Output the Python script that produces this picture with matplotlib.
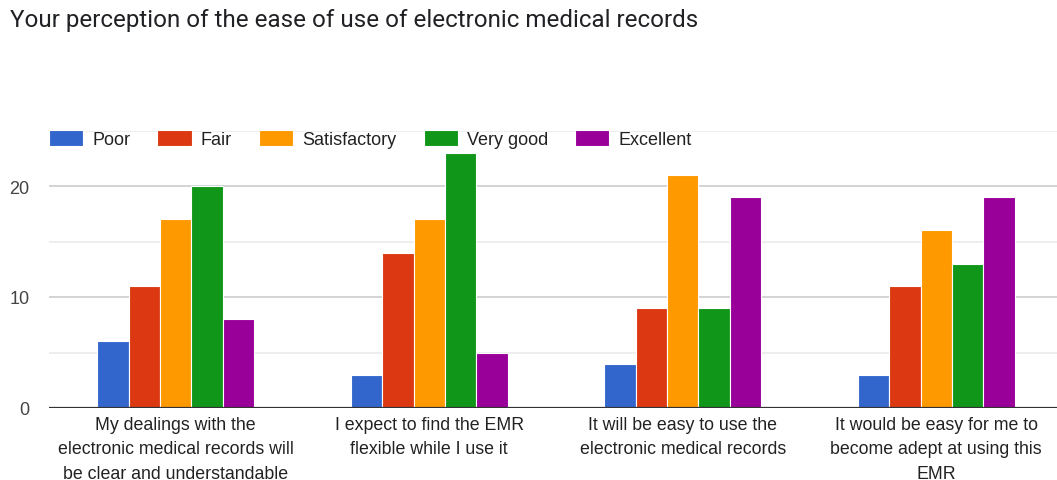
import matplotlib.pyplot as plt
import numpy as np
from matplotlib.ticker import MultipleLocator

categories = [
    "My dealings with the\nelectronic medical records will\nbe clear and understandable",
    "I expect to find the EMR\nflexible while I use it",
    "It will be easy to use the\nelectronic medical records",
    "It would be easy for me to\nbecome adept at using this\nEMR",
]
ratings = ["Poor", "Fair", "Satisfactory", "Very good", "Excellent"]
poor = [6, 3, 4, 3]
fair = [11, 14, 9, 11]
satisfactory = [17, 17, 21, 16]
very_good = [20, 23, 9, 13]
excellent = [8, 5, 19, 19]
colors = ["#3366cc", "#dc3912", "#ff9900", "#109618", "#990099"]

W, H = 1057, 481
fig = plt.figure(figsize=(W / 100, H / 100), dpi=100)
ax = fig.add_axes([49 / W, 72 / H, 1 - 49 / W, 277.5 / H])

x = np.arange(len(categories))
width = 0.124
series = [poor, fair, satisfactory, very_good, excellent]
for i, (name, vals, c) in enumerate(zip(ratings, series, colors)):
    ax.bar(x + (i - 2) * width, vals, width, color=c, edgecolor="white",
           linewidth=0.8, label=name, zorder=3)

ax.set_xlim(-0.5, 3.5 - 6 / 253.5)
ax.set_ylim(0, 25)
ax.yaxis.set_major_locator(MultipleLocator(10))
ax.yaxis.set_minor_locator(MultipleLocator(5))
ax.grid(axis="y", which="major", color="#cccccc", linewidth=1.2, zorder=0)
ax.grid(axis="y", which="minor", color="#ebebeb", linewidth=1.2, zorder=0)
ax.axhline(0, color="#333333", linewidth=1.6, zorder=4)

for s in ax.spines.values():
    s.set_visible(False)
ax.tick_params(axis="both", which="both", length=0)
ax.tick_params(axis="y", labelsize=13, labelcolor="#444444", pad=14)
ax.set_xticks(x)
ax.set_xticklabels(categories, fontsize=12.75, color="#222222", linespacing=1.55)
ax.tick_params(axis="x", pad=6)
for t in ax.get_yticklabels() + ax.get_xticklabels():
    t.set_fontfamily("Liberation Sans")

fig.legend(loc="upper left", bbox_to_anchor=(49 / W, 1 - 131 / H), ncol=5,
           frameon=False, borderaxespad=0, borderpad=0,
           prop={"family": "Liberation Sans", "size": 13},
           handlelength=1.9, handleheight=0.95, handletextpad=0.5,
           columnspacing=1.5, labelcolor="#222222")

fig.text(10 / W, 1 - 21 / H, "Your perception of the ease of use of electronic medical records",
         fontsize=17.4, family="Roboto", color="#202124", va="center", ha="left")

fig.savefig("out.png", dpi=100)
